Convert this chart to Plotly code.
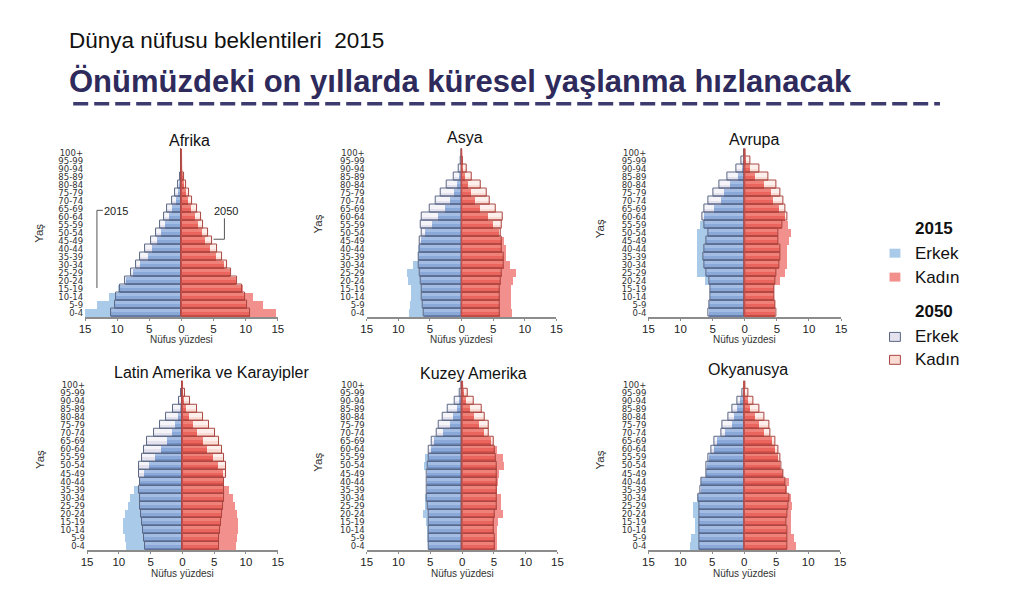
import plotly.graph_objects as go

# ---------------- DATA ----------------
ages = ["0-4", "5-9", "10-14", "15-19", "20-24", "25-29", "30-34", "35-39", "40-44",
        "45-49", "50-54", "55-59", "60-64", "65-69", "70-74", "75-79", "80-84",
        "85-89", "90-94", "95-99", "100+"]

x_tick_vals = [-15, -10, -5, 0, 5, 10, 15]
x_tick_text = ["15", "10", "5", "0", "5", "10", "15"]

afrika_m15 = [15.0, 13.1, 11.3, 9.9, 8.6, 7.6, 6.4, 5.2, 4.5, 3.8, 3.1, 2.5, 1.9, 1.4, 0.9, 0.5, 0.3, 0.1, 0.03, 0.01, 0.0]
afrika_m50 = [10.9, 10.4, 10.1, 9.6, 8.7, 7.8, 7.0, 6.4, 5.6, 4.7, 3.9, 3.3, 2.7, 2.2, 1.5, 1.0, 0.6, 0.25, 0.08, 0.02, 0.0]
afrika_f15 = [14.7, 12.7, 11.1, 9.6, 8.5, 7.6, 6.6, 5.4, 4.5, 3.7, 3.2, 2.6, 2.1, 1.5, 1.0, 0.7, 0.35, 0.15, 0.05, 0.01, 0.0]
afrika_f50 = [10.7, 10.2, 9.9, 9.4, 8.6, 7.8, 7.1, 6.4, 5.5, 4.8, 4.1, 3.4, 3.0, 2.4, 1.7, 1.2, 0.7, 0.35, 0.12, 0.03, 0.01]

asya_m15 = [8.4, 8.2, 8.1, 8.1, 8.5, 8.7, 7.7, 6.9, 7.0, 6.4, 5.9, 4.7, 3.8, 2.7, 1.8, 1.3, 0.8, 0.4, 0.1, 0.03, 0.01]
asya_m50 = [6.0, 6.2, 6.3, 6.3, 6.4, 6.6, 6.8, 6.8, 6.7, 6.6, 6.3, 6.4, 6.3, 5.0, 4.1, 3.3, 2.3, 1.2, 0.5, 0.1, 0.02]
asya_f15 = [7.9, 7.8, 7.8, 7.7, 8.1, 8.6, 7.6, 6.9, 7.0, 6.7, 5.9, 4.9, 4.1, 2.8, 2.1, 1.5, 1.0, 0.5, 0.2, 0.05, 0.01]
asya_f50 = [6.0, 6.0, 6.05, 6.0, 6.15, 6.3, 6.6, 6.6, 6.4, 6.3, 6.15, 6.4, 6.5, 5.4, 4.5, 4.0, 3.0, 1.6, 0.8, 0.25, 0.05]

avrupa_m15 = [5.5, 5.5, 5.3, 5.3, 6.2, 7.4, 7.3, 7.3, 7.3, 7.3, 7.4, 6.9, 6.3, 4.7, 3.7, 3.2, 2.2, 1.0, 0.4, 0.1, 0.01]
avrupa_m50 = [5.6, 5.5, 5.4, 5.4, 5.5, 6.0, 6.25, 6.4, 6.3, 5.9, 5.7, 6.25, 6.6, 6.25, 5.6, 4.9, 3.9, 2.7, 1.3, 0.45, 0.05]
avrupa_f15 = [4.8, 4.8, 4.6, 4.6, 5.5, 6.3, 6.7, 6.7, 6.7, 6.9, 7.2, 6.8, 6.4, 5.4, 4.5, 4.2, 3.0, 1.7, 0.8, 0.25, 0.03]
avrupa_f50 = [4.9, 4.8, 4.6, 4.6, 4.8, 5.0, 5.4, 5.5, 5.5, 5.2, 5.2, 5.8, 6.6, 6.4, 6.05, 5.6, 4.9, 3.7, 2.3, 0.8, 0.15]

latin_m15 = [8.9, 9.0, 9.3, 9.3, 9.0, 8.6, 8.2, 7.6, 6.7, 6.0, 5.2, 4.3, 3.4, 2.4, 1.7, 1.1, 0.7, 0.4, 0.2, 0.05, 0.01]
latin_m50 = [5.8, 6.0, 6.2, 6.3, 6.5, 6.6, 6.7, 6.8, 6.7, 6.9, 6.8, 6.4, 6.1, 5.5, 4.4, 3.5, 2.5, 1.4, 0.6, 0.15, 0.03]
latin_f15 = [8.5, 8.6, 8.8, 8.8, 8.6, 8.3, 7.9, 7.4, 6.5, 6.4, 5.6, 4.8, 3.9, 3.2, 2.3, 1.6, 1.1, 0.6, 0.3, 0.1, 0.02]
latin_f50 = [5.7, 5.8, 5.9, 6.1, 6.2, 6.4, 6.5, 6.5, 6.6, 6.9, 6.8, 6.5, 6.2, 5.8, 5.1, 4.2, 3.2, 2.3, 1.2, 0.4, 0.1]

kuzey_m15 = [5.4, 5.5, 5.5, 5.7, 6.2, 5.9, 5.9, 5.5, 5.5, 5.6, 6.0, 5.8, 5.0, 4.5, 3.0, 2.0, 1.4, 0.9, 0.5, 0.1, 0.02]
kuzey_m50 = [5.3, 5.3, 5.2, 5.2, 5.3, 5.4, 5.5, 5.5, 5.5, 5.5, 5.4, 5.3, 5.2, 4.8, 4.0, 3.6, 3.0, 2.2, 1.1, 0.3, 0.05]
kuzey_f15 = [5.4, 5.5, 5.4, 5.6, 6.4, 6.0, 6.1, 5.5, 5.6, 5.7, 6.6, 6.4, 5.4, 4.5, 3.4, 2.6, 1.9, 1.2, 0.6, 0.25, 0.05]
kuzey_f50 = [5.2, 5.1, 5.0, 5.0, 5.2, 5.4, 5.5, 5.5, 5.5, 5.5, 5.4, 5.3, 5.1, 5.0, 4.2, 4.2, 3.5, 3.1, 1.8, 0.9, 0.15]

okyanusya_m15 = [8.5, 8.2, 7.7, 7.7, 8.0, 7.9, 7.3, 6.7, 6.7, 6.0, 5.8, 5.5, 4.7, 4.2, 2.9, 1.9, 1.6, 1.1, 0.6, 0.1, 0.02]
okyanusya_m50 = [7.0, 7.0, 7.0, 7.0, 7.0, 7.0, 7.1, 6.8, 6.7, 6.0, 5.9, 5.6, 5.1, 4.6, 3.6, 3.4, 2.5, 1.8, 1.0, 0.3, 0.05]
okyanusya_f15 = [8.2, 7.8, 7.4, 7.3, 7.4, 7.5, 7.3, 6.7, 7.0, 6.1, 5.7, 5.4, 4.9, 4.4, 3.1, 2.3, 1.8, 1.0, 0.6, 0.2, 0.03]
okyanusya_f50 = [6.8, 6.8, 6.8, 6.6, 6.7, 6.9, 7.0, 6.6, 6.5, 6.1, 5.8, 5.6, 5.4, 4.8, 4.1, 3.9, 3.1, 2.4, 1.5, 0.6, 0.1]

region_names = ["Afrika", "Asya", "Avrupa", "Latin Amerika ve Karayipler", "Kuzey Amerika", "Okyanusya"]
region_data = [
    (afrika_m15, afrika_m50, afrika_f15, afrika_f50),
    (asya_m15, asya_m50, asya_f15, asya_f50),
    (avrupa_m15, avrupa_m50, avrupa_f15, avrupa_f50),
    (latin_m15, latin_m50, latin_f15, latin_f50),
    (kuzey_m15, kuzey_m50, kuzey_f15, kuzey_f50),
    (okyanusya_m15, okyanusya_m50, okyanusya_f15, okyanusya_f50),
]

# ---------------- LAYOUT / STYLE ----------------
W, H = 1024, 614
FONT = "Liberation Sans, Arial, sans-serif"
AGE_FONT = "DejaVu Sans, Liberation Sans, sans-serif"


def px(x):
    return x / W


def py(y):
    return 1 - y / H


# pixel geometry of each panel
panel_geo = [
    dict(xl=80, xr=275, yt=148, yb=317, tx=186, ty=140, yx=34, yy=233, ny=340),
    dict(xl=365, xr=557, yt=148, yb=317, tx=464, ty=137, yx=316, yy=224, ny=340),
    dict(xl=650, xr=845, yt=148, yb=317, tx=757, ty=139, yx=601, yy=228, ny=340),
    dict(xl=82, xr=275, yt=381, yb=551, tx=208, ty=373, yx=34, yy=460, ny=574),
    dict(xl=365, xr=558, yt=381, yb=551, tx=473, ty=374, yx=316, yy=463, ny=574),
    dict(xl=650, xr=844, yt=381, yb=551, tx=751, ty=370, yx=601, yy=460, ny=574),
]

MALE = dict(c15="#a9cae8", c50="#e3e2ee", c50t="#f5f5f9", cov="#8aa9d9", covt="#a3bde4",
            covb="#7393c9", cln="#5a6683")
FEMALE = dict(c15="#f1908c", c50="#fadcd4", c50t="#fdf0ec", cov="#e9655e", covt="#ef8179",
              covb="#d9514b", cln="#a94641")

fig = go.Figure()
ypos = list(range(len(ages)))

for i, (name, (m15, m50, f15, f50), g) in enumerate(zip(region_names, region_data, panel_geo)):
    k = "" if i == 0 else str(i + 1)
    xa, ya = "x" + k, "y" + k
    for sign, v15, v50, c in [(-1, m15, m50, MALE), (1, f15, f50, FEMALE)]:
        ov = [min(a, b) for a, b in zip(v15, v50)]
        common = dict(y=ypos, orientation="h", xaxis=xa, yaxis=ya,
                      showlegend=False, hoverinfo="skip")
        x50 = [sign * v for v in v50]
        x15 = [sign * v for v in v15]
        xov = [sign * v for v in ov]
        fig.add_trace(go.Bar(x=x50, width=1, marker=dict(color=c["c50"], line=dict(width=0)), **common))
        fig.add_trace(go.Bar(x=x50, width=0.45, offset=0.05, marker=dict(color=c["c50t"], line=dict(width=0)), **common))
        fig.add_trace(go.Bar(x=x15, width=1, marker=dict(color=c["c15"], line=dict(width=0)), **common))
        fig.add_trace(go.Bar(x=xov, width=1, marker=dict(color=c["cov"], line=dict(width=0)), **common))
        fig.add_trace(go.Bar(x=xov, width=0.35, offset=0.15, marker=dict(color=c["covt"], line=dict(width=0)), **common))
        fig.add_trace(go.Bar(x=xov, width=0.3, offset=-0.5, marker=dict(color=c["covb"], line=dict(width=0)), **common))
        fig.add_trace(go.Bar(x=x50, width=1,
                             marker=dict(color="rgba(0,0,0,0)", line=dict(width=1, color=c["cln"])), **common))

    fig.update_layout(**{
        "xaxis" + k: dict(domain=[px(g["xl"]), px(g["xr"])], range=[-15, 15], anchor=ya,
                          tickvals=x_tick_vals, ticktext=x_tick_text, showgrid=False, zeroline=False,
                          showline=True, linecolor="#8c8c8c", linewidth=1.5, ticks="outside",
                          ticklen=2, tickcolor="#8c8c8c", ticklabelstandoff=-2,
                          tickfont=dict(size=11.5, color="#222", family=FONT), fixedrange=True),
        "yaxis" + k: dict(domain=[py(g["yb"]), py(g["yt"])], range=[-0.5, len(ages) - 0.5], anchor=xa,
                          tickvals=ypos, ticktext=ages, showgrid=False, zeroline=False, showline=False,
                          ticks="", ticklabelstandoff=1,
                          tickfont=dict(size=8.5, color="#333", family=AGE_FONT), fixedrange=True),
    })
    fig.add_shape(type="line", xref=xa, yref=ya, x0=0, x1=0, y0=-0.5, y1=len(ages) - 0.5,
                  line=dict(color="#c0504d", width=1.2), layer="above")
    fig.add_annotation(x=px(g["tx"]), y=py(g["ty"]), xref="paper", yref="paper", text=name,
                       showarrow=False, font=dict(size=16, color="#111", family=FONT),
                       xanchor="center", yanchor="middle")
    fig.add_annotation(x=px(g["yx"]), y=py(g["yy"]), xref="paper", yref="paper", text="Yaş",
                       showarrow=False, textangle=-90, font=dict(size=11.5, color="#333", family=FONT),
                       xanchor="center", yanchor="middle")
    fig.add_annotation(x=px((g["xl"] + g["xr"]) / 2), y=py(g["ny"]), xref="paper", yref="paper",
                       text="Nüfus yüzdesi", showarrow=False,
                       font=dict(size=10, color="#333", family=FONT), xanchor="center", yanchor="middle")

# Afrika year brackets
brk = dict(color="#555", width=1)
fig.add_shape(type="line", xref="paper", yref="paper", x0=px(92), x1=px(92), y0=py(210), y1=py(288), line=brk)
fig.add_shape(type="line", xref="paper", yref="paper", x0=px(92), x1=px(98), y0=py(210), y1=py(210), line=brk)
fig.add_shape(type="line", xref="paper", yref="paper", x0=px(221), x1=px(221), y0=py(218), y1=py(239), line=brk)
fig.add_shape(type="line", xref="paper", yref="paper", x0=px(221), x1=px(210), y0=py(239), y1=py(239), line=brk)
fig.add_annotation(x=px(97), y=py(211), xref="paper", yref="paper", text="2015", showarrow=False,
                   font=dict(size=11, color="#222", family=FONT), xanchor="left", yanchor="middle")
fig.add_annotation(x=px(223), y=py(211), xref="paper", yref="paper", text="2050", showarrow=False,
                   font=dict(size=11, color="#222", family=FONT), xanchor="center", yanchor="middle")

# Header texts
fig.add_annotation(x=px(62), y=py(40), xref="paper", yref="paper", text="Dünya nüfusu beklentileri  2015",
                   showarrow=False, font=dict(size=22.5, color="#111", family=FONT),
                   xanchor="left", yanchor="middle")
fig.add_annotation(x=px(62), y=py(81), xref="paper", yref="paper",
                   text="<b>Önümüzdeki on yıllarda küresel yaşlanma hızlanacak</b>",
                   showarrow=False, font=dict(size=31, color="#2e2a5c", family=FONT),
                   xanchor="left", yanchor="middle")
fig.add_shape(type="line", xref="paper", yref="paper", x0=px(68), x1=px(945), y0=py(103), y1=py(103),
              line=dict(color="#3d3a6e", width=3.5, dash="15px,6px"))

# Custom legend
lg_font = dict(size=17, color="#111", family=FONT)
fig.add_annotation(x=px(939), y=py(228), xref="paper", yref="paper", text="<b>2015</b>", showarrow=False,
                   font=lg_font, xanchor="center", yanchor="middle")
fig.add_annotation(x=px(939), y=py(312), xref="paper", yref="paper", text="<b>2050</b>", showarrow=False,
                   font=lg_font, xanchor="center", yanchor="middle")
legend_items = [
    (253, "Erkek", MALE["c15"], None),
    (277, "Kadın", FEMALE["c15"], None),
    (337, "Erkek", MALE["c50"], MALE["cln"]),
    (360, "Kadın", FEMALE["c50"], FEMALE["cln"]),
]
for yy, label, col, lc in legend_items:
    fig.add_shape(type="rect", xref="paper", yref="paper", x0=px(894), x1=px(905), y0=py(yy - 4.5), y1=py(yy + 4.5),
                  fillcolor=col, line=dict(width=1 if lc else 0, color=lc or col))
    fig.add_annotation(x=px(918), y=py(yy), xref="paper", yref="paper", text=label, showarrow=False,
                       font=lg_font, xanchor="left", yanchor="middle")

fig.update_layout(
    width=W, height=H, margin=dict(l=0, r=0, t=0, b=0),
    barmode="overlay", bargap=0,
    paper_bgcolor="white", plot_bgcolor="white",
    font=dict(family=FONT),
    showlegend=False,
)

fig.write_html("out.html", config={"displayModeBar": False},
               post_script="document.body.style.margin='0';")
